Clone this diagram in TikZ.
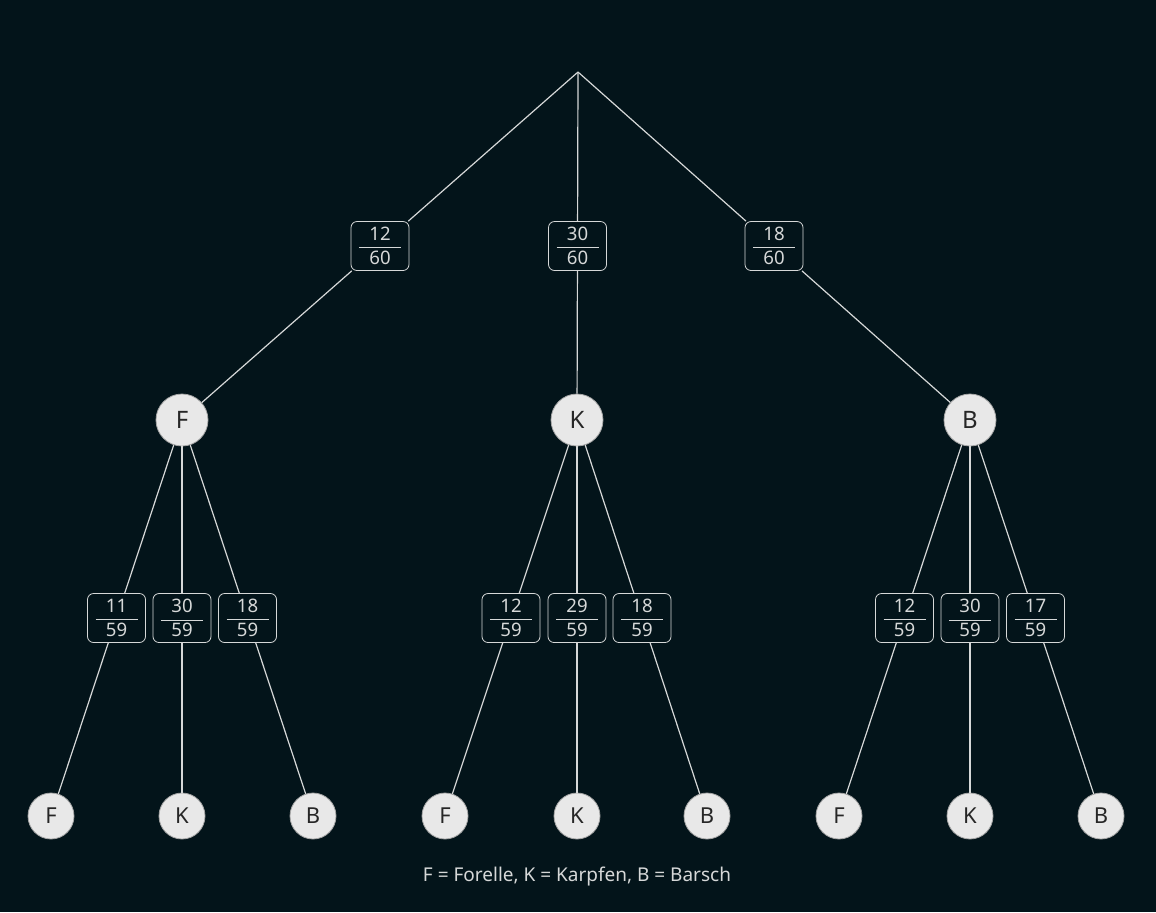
\documentclass[tikz,border=0pt]{standalone}
\usepackage{amsmath}
\usepackage{fontspec}
\setmainfont{Noto Sans}
\usetikzlibrary{calc}
\definecolor{bg}{HTML}{03141A}
\definecolor{ln}{HTML}{D6D8D8}
\definecolor{ball}{HTML}{E8E8E8}
\newcommand{\bruch}[2]{$\dfrac{\text{\makebox[21pt]{#1}}}{\text{\makebox[21pt]{#2}}}$}
\begin{document}
\begin{tikzpicture}[x=0.5pt,y=-0.5pt,
	kante/.style={draw=ln,line width=0.6pt},
	bruchbox/.style={draw=ln,fill=bg,rounded corners=3pt,minimum width=29pt,minimum height=24.5pt,inner sep=1pt,text=ln,font=\fontsize{9.3}{11}\selectfont},
	fisch/.style={circle,draw=gray!70,fill=ball,text=black!85,inner sep=0pt,minimum size=23pt,font=\fontsize{11}{13}\selectfont},
	fischgross/.style={fisch,minimum size=26pt,font=\fontsize{12}{14}\selectfont}]
	\fill[bg] (0,0) rectangle (1156,912);
	\useasboundingbox (0,0) rectangle (1156,912);
	\coordinate (w) at (578,72); % Wurzel
	% erste Ziehung
	\node[fischgross] (F) at (182,420) {F};
	\node[fischgross] (K) at (577,420) {K};
	\node[fischgross] (B) at (970,420) {B};
	% zweite Ziehung
	\node[fisch] (FF) at (51,816) {F};
	\node[fisch] (FK) at (182,816) {K};
	\node[fisch] (FB) at (313,816) {B};
	\node[fisch] (KF) at (445,816) {F};
	\node[fisch] (KK) at (577,816) {K};
	\node[fisch] (KB) at (707,816) {B};
	\node[fisch] (BF) at (839,816) {F};
	\node[fisch] (BK) at (970,816) {K};
	\node[fisch] (BB) at (1101,816) {B};
	% Wahrscheinlichkeiten
	\node[bruchbox] (pF) at ($(w)!.5!(F)$) {\bruch{12}{60}};
	\node[bruchbox] (pK) at ($(w)!.5!(K)$) {\bruch{30}{60}};
	\node[bruchbox] (pB) at ($(w)!.5!(B)$) {\bruch{18}{60}};
	\node[bruchbox] (pFF) at ($(F)!.5!(FF)$) {\bruch{11}{59}};
	\node[bruchbox] (pFK) at ($(F)!.5!(FK)$) {\bruch{30}{59}};
	\node[bruchbox] (pFB) at ($(F)!.5!(FB)$) {\bruch{18}{59}};
	\node[bruchbox] (pKF) at ($(K)!.5!(KF)$) {\bruch{12}{59}};
	\node[bruchbox] (pKK) at ($(K)!.5!(KK)$) {\bruch{29}{59}};
	\node[bruchbox] (pKB) at ($(K)!.5!(KB)$) {\bruch{18}{59}};
	\node[bruchbox] (pBF) at ($(B)!.5!(BF)$) {\bruch{12}{59}};
	\node[bruchbox] (pBK) at ($(B)!.5!(BK)$) {\bruch{30}{59}};
	\node[bruchbox] (pBB) at ($(B)!.5!(BB)$) {\bruch{17}{59}};
	% Kanten
	\draw[kante] (w) -- (pF) -- (F);
	\draw[kante] (w) -- (pK) -- (K);
	\draw[kante] (w) -- (pB) -- (B);
	\draw[kante] (F) -- (pFF) -- (FF);
	\draw[kante] (F) -- (pFK) -- (FK);
	\draw[kante] (F) -- (pFB) -- (FB);
	\draw[kante] (K) -- (pKF) -- (KF);
	\draw[kante] (K) -- (pKK) -- (KK);
	\draw[kante] (K) -- (pKB) -- (KB);
	\draw[kante] (B) -- (pBF) -- (BF);
	\draw[kante] (B) -- (pBK) -- (BK);
	\draw[kante] (B) -- (pBB) -- (BB);
	\node[text=ln,font=\fontsize{9.5}{11}\selectfont] (legende) at (577,876) {F = Forelle, K = Karpfen, B = Barsch};
\end{tikzpicture}
\end{document}
